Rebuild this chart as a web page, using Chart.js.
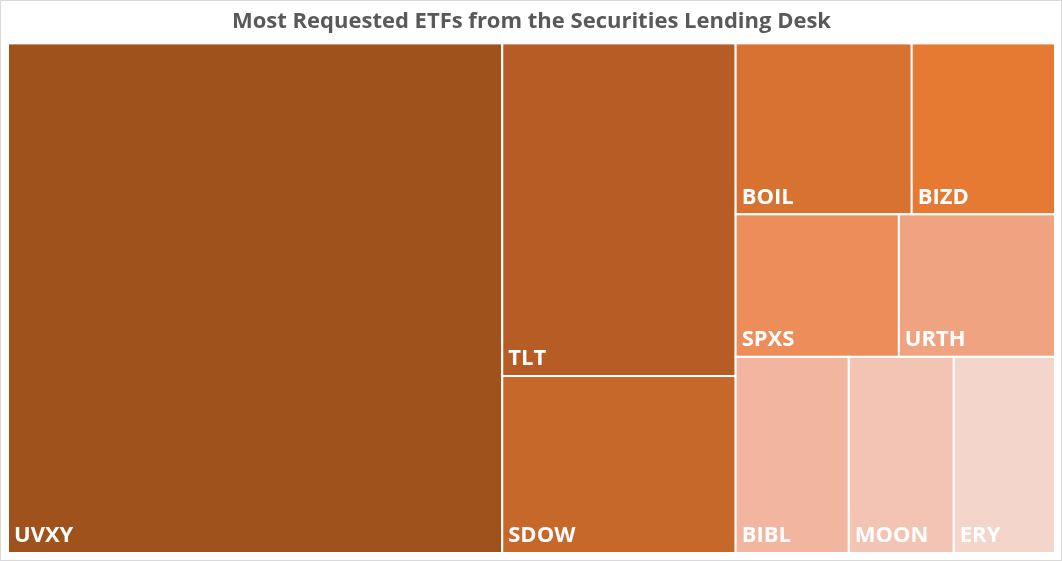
<!DOCTYPE html>
<html>
<head>
<meta charset="utf-8">
<script src="https://cdn.jsdelivr.net/npm/chart.js@4"></script>
<style>
  html, body { margin: 0; padding: 0; background: #fff; }
  #wrap { width: 1060px; height: 559px; border: 1px solid #d9d9d9; }
</style>
</head>
<body>
<div id="wrap"><canvas id="myChart"></canvas></div>
<script>
  const tickers = ['UVXY', 'TLT', 'SDOW', 'BOIL', 'BIZD', 'SPXS', 'URTH', 'BIBL', 'MOON', 'ERY']
  const requests = [47.2, 14.55, 7.74, 5.64, 4.59, 4.36, 4.17, 4.16, 3.86, 3.72]
  const colors = ['#A0521C', '#B75C24', '#C7682B', '#D87230', '#E77A33',
    '#ED8D5A', '#F0A380', '#F2B5A0', '#F3C4B3', '#F4D5CB']

  // tile grouping: columns, each split into rows, each row split into cells (indexes into tickers)
  const columns = [
    [[0]],
    [[1], [2]],
    [[3, 4], [5, 6], [7, 8, 9]]
  ]

  const sum = idx => idx.reduce((s, i) => s + requests[i], 0)

  // build tiles in data units (0..100 on both axes)
  function layoutTiles() {
    const total = sum(tickers.map((t, i) => i))
    const tiles = []
    let x0 = 0
    columns.forEach(col => {
      const colSum = col.reduce((s, row) => s + sum(row), 0)
      const w = colSum / total * 100
      let y0 = 0
      col.forEach(row => {
        const rowSum = sum(row)
        const h = rowSum / colSum * 100
        let rx = x0
        row.forEach(i => {
          const cw = requests[i] / rowSum * w
          tiles.push({ i: i, x0: rx, x1: rx + cw, y0: y0, y1: y0 + h })
          rx += cw
        })
        y0 += h
      })
      x0 += w
    })
    return tiles
  }

  const treemapPlugin = {
    id: 'treemap',
    afterDatasetsDraw(chart) {
      const c = chart.ctx
      const xs = chart.scales.x
      const ys = chart.scales.y
      layoutTiles().forEach(t => {
        const left = xs.getPixelForValue(t.x0)
        const right = xs.getPixelForValue(t.x1)
        const top = ys.getPixelForValue(t.y0)
        const bottom = ys.getPixelForValue(t.y1)
        c.save()
        c.fillStyle = colors[t.i]
        c.fillRect(left, top, right - left, bottom - top)
        c.strokeStyle = '#ffffff'
        c.lineWidth = 2
        c.strokeRect(left, top, right - left, bottom - top)
        c.fillStyle = '#ffffff'
        c.font = 'bold 22px "Open Sans", sans-serif'
        c.textBaseline = 'bottom'
        c.fillText(tickers[t.i], left + 6, bottom - 6)
        c.restore()
      })
    }
  }

  const ctx = document.getElementById('myChart')
  // eslint-disable-next-line no-unused-vars
  const myChart = new Chart(ctx, {
    type: 'scatter',
    data: { datasets: [{ data: [] }] },
    plugins: [treemapPlugin],
    options: {
      responsive: true,
      maintainAspectRatio: false,
      animation: false,
      layout: { padding: { left: 7, right: 6, bottom: 7, top: 0 } },
      scales: {
        x: { type: 'linear', min: 0, max: 100, display: false },
        y: { type: 'linear', min: 0, max: 100, reverse: true, display: false }
      },
      plugins: {
        legend: { display: false },
        tooltip: { enabled: false },
        title: {
          display: true,
          text: 'Most Requested ETFs from the Securities Lending Desk',
          color: '#595959',
          font: { family: '"Open Sans", sans-serif', size: 22, weight: 'bold' },
          padding: { top: 8, bottom: 8 }
        }
      }
    }
  })
</script>
</body>
</html>
